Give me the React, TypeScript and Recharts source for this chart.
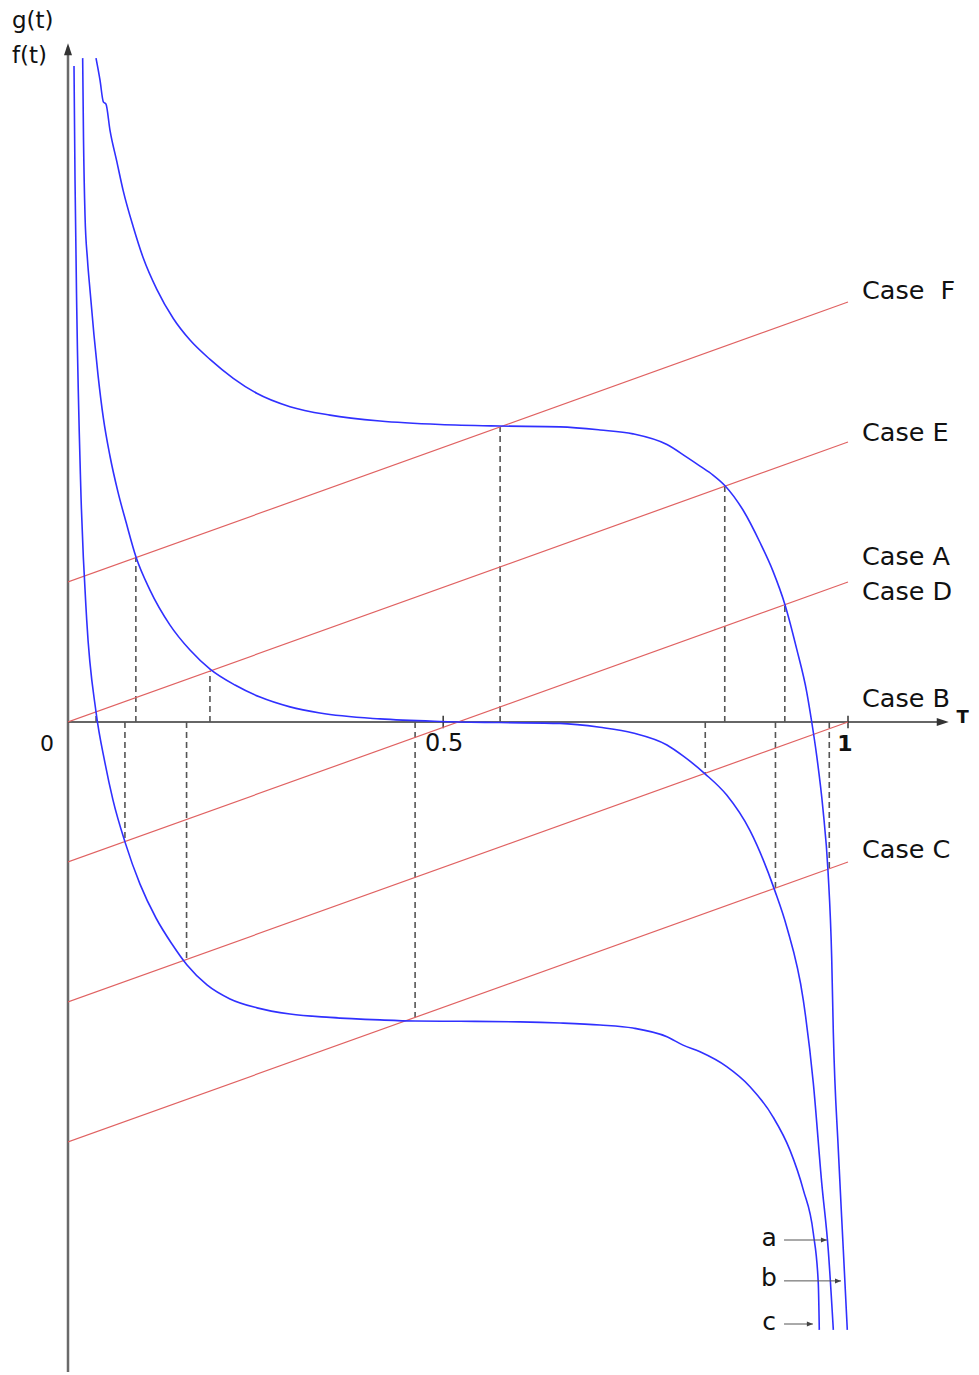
import React from "react";
import { ComposedChart, Line, XAxis, YAxis, ReferenceLine, ReferenceDot } from "recharts";

// samples, [t, value]
const curveA: [number, number][] = [
  [0.0188, 2.371], [0.0199, 2.079], [0.0218, 1.811], [0.025, 1.65], [0.0282, 1.543],
  [0.0333, 1.382], [0.0385, 1.239], [0.0453, 1.086], [0.0538, 0.95], [0.0641, 0.821],
  [0.0744, 0.714], [0.0872, 0.589], [0.1051, 0.471], [0.1308, 0.346], [0.1564, 0.257],
  [0.1821, 0.189], [0.2141, 0.132], [0.2462, 0.089], [0.2846, 0.054], [0.3231, 0.032],
  [0.4, 0.011], [0.4769, 0.002], [0.5538, -0.002], [0.6308, -0.005], [0.6821, -0.019],
  [0.7244, -0.039], [0.7679, -0.082], [0.7885, -0.121], [0.8167, -0.185], [0.8445, -0.261],
  [0.8744, -0.388], [0.9064, -0.604], [0.9214, -0.731], [0.9427, -0.993], [0.9555, -1.289],
  [0.9663, -1.646], [0.9747, -1.886], [0.9812, -2.171],
];

const curveB: [number, number][] = [
  [0.0359, 2.371], [0.041, 2.293], [0.0453, 2.215], [0.0487, 2.207], [0.0538, 2.114],
  [0.0624, 2.004], [0.0709, 1.896], [0.0837, 1.768], [0.0965, 1.657], [0.1137, 1.546],
  [0.135, 1.441], [0.1564, 1.364], [0.1821, 1.295], [0.2119, 1.2275], [0.2419, 1.174],
  [0.2846, 1.126], [0.3359, 1.096], [0.4, 1.075], [0.4769, 1.0625], [0.5538, 1.057],
  [0.6308, 1.054], [0.6821, 1.043], [0.7244, 1.029], [0.7679, 0.991], [0.7932, 0.946],
  [0.8103, 0.914], [0.8269, 0.882], [0.8423, 0.844], [0.8654, 0.757], [0.8872, 0.641],
  [0.9038, 0.539], [0.9192, 0.419], [0.9342, 0.261], [0.9471, 0.107], [0.9535, 0.0],
  [0.9599, -0.121], [0.9679, -0.311], [0.9744, -0.534], [0.9791, -0.843], [0.9812, -1.111],
  [0.9876, -1.529], [0.994, -1.886], [0.9991, -2.171],
];

const curveC: [number, number][] = [
  [0.0077, 2.343], [0.009, 1.936], [0.0112, 1.479], [0.0163, 0.843], [0.024, 0.364],
  [0.0359, 0.036], [0.0474, -0.146], [0.0577, -0.279], [0.0731, -0.429], [0.0923, -0.579],
  [0.1128, -0.7], [0.1333, -0.793], [0.1526, -0.868], [0.1782, -0.939], [0.2077, -0.989],
  [0.2423, -1.021], [0.2846, -1.043], [0.3359, -1.055], [0.4, -1.064], [0.4449, -1.068],
  [0.5026, -1.069], [0.5795, -1.071], [0.6308, -1.075], [0.6821, -1.082], [0.7244, -1.093],
  [0.7679, -1.124], [0.7885, -1.154], [0.8103, -1.178], [0.8445, -1.231], [0.8744, -1.3025],
  [0.9038, -1.41], [0.9256, -1.529], [0.9427, -1.671], [0.9555, -1.825], [0.9619, -2.004],
  [0.9632, -2.171],
];

// straight lines y = t + offset, drawn from t=0 to t=1
const caseOffsets = [0.5, 0, -0.5, -1, -1.5];
const lineEnds = [0, 1];

const caseLabels = [
  { text: "Case\u00a0\u00a0F", line: 0 },
  { text: "Case E", line: 1 },
  { text: "Case A", line: 2 },
  { text: "Case D", line: 2 },
  { text: "Case B", line: 3 },
  { text: "Case C", line: 4 },
];
const caseLabelShift = [-12, -10, -26, 9, -24, -13];

// intersection abscissas and the line they sit on
const drops = [
  { t: 0.036, line: 1 }, { t: 0.087, line: 0 }, { t: 0.182, line: 1 },
  { t: 0.554, line: 0 }, { t: 0.842, line: 1 }, { t: 0.919, line: 2 },
  { t: 0.073, line: 2 }, { t: 0.152, line: 3 }, { t: 0.445, line: 4 },
  { t: 0.817, line: 3 }, { t: 0.907, line: 4 }, { t: 0.976, line: 4 },
];

// the original puts its "0.5" tick a little left of t=0.5
const xTicks = [0.481, 1];
const xTickLabels = ["0.5", "1"];

const curveNames = ["a", "b", "c"];
const pointerY = [-1.85, -1.996, -2.15];
const pointerTo = [0.973, 0.991, 0.955];
const pointerFrom = 0.918;

const Y_MIN = -653 / 280;
const Y_MAX = 682 / 280;
const X_MAX = 1.14;
const AXIS_TOP = 2.41;
const AXIS_BOTTOM = -2.321;
const AXIS_RIGHT = 1.124;

const toRows = (pts: [number, number][]) => pts.map(([t, y]) => ({ t, y }));

const BLUE = "#3030ff";
const RED = "#e06262";
const FONT = "'DejaVu Sans', Verdana, sans-serif";

const upArrow = (p: any) => (
  <path d={`M${p.cx},${p.cy - 4} L${p.cx - 4},${p.cy + 8} L${p.cx + 4},${p.cy + 8} Z`} fill="#333" />
);
const rightArrow = (p: any) => (
  <path d={`M${p.cx + 4},${p.cy} L${p.cx - 8},${p.cy - 4} L${p.cx - 8},${p.cy + 4} Z`} fill="#333" />
);
const smallArrow = (p: any) => (
  <path d={`M${p.cx},${p.cy} L${p.cx - 6},${p.cy - 2.5} L${p.cx - 6},${p.cy + 2.5} Z`} fill="#444" />
);
const textAt = (text: string, dx: number, dy: number, size: number, weight = 400, anchor = "start") =>
  (p: any) => (
    <text x={p.cx + dx} y={p.cy + dy} fontSize={size} fontWeight={weight} textAnchor={anchor}
      dominantBaseline="central" fill="#111" fontFamily={FONT}>
      {text}
    </text>
  );

export default function App() {
  return (
    <div style={{ position: "absolute", left: 0, top: 0, width: 979, height: 1375, background: "#fff" }}>
      <ComposedChart width={979} height={1375} margin={{ top: 40, right: 979 - 68 - X_MAX * 780, bottom: 0, left: 68 }}>
        <XAxis type="number" dataKey="t" domain={[0, X_MAX]} allowDataOverflow hide />
        <YAxis type="number" dataKey="y" domain={[Y_MIN, Y_MAX]} allowDataOverflow hide />

        {/* axes */}
        <ReferenceLine segment={[{ x: 0, y: AXIS_BOTTOM }, { x: 0, y: AXIS_TOP }]} stroke="#6a6a6a" strokeWidth={2.5} />
        <ReferenceLine segment={[{ x: 0, y: 0 }, { x: AXIS_RIGHT, y: 0 }]} stroke="#333" strokeWidth={1.5} />
        <ReferenceDot x={0} y={AXIS_TOP} r={0} shape={upArrow} />
        <ReferenceDot x={AXIS_RIGHT} y={0} r={0} shape={rightArrow} />
        {xTicks.map((v, i) => (
          <ReferenceLine key={"tk" + i} segment={[{ x: v, y: 0.022 }, { x: v, y: -0.022 }]} stroke="#333" strokeWidth={1.5} />
        ))}
        {xTicks.map((v, i) => (
          <ReferenceDot key={"tl" + i} x={v} y={0} r={0}
            shape={textAt(xTickLabels[i], i === 1 ? -3 : 1, 21, i === 1 ? 22 : 24, i === 1 ? 700 : 400, "middle")} />
        ))}
        <ReferenceDot x={0} y={0} r={0} shape={textAt("0", -21, 21, 22, 400, "middle")} />
        <ReferenceDot x={AXIS_RIGHT} y={0} r={0} shape={textAt("T", 18, -6, 18, 700, "middle")} />
        <ReferenceDot x={0} y={AXIS_TOP} r={0} shape={textAt("g(t)", -56, -27, 23)} />
        <ReferenceDot x={0} y={AXIS_TOP} r={0} shape={textAt("f(t)", -56, 8, 23)} />

        {/* drop lines */}
        {drops.map((d, i) => (
          <ReferenceLine key={"d" + i} segment={[{ x: d.t, y: 0 }, { x: d.t, y: d.t + caseOffsets[d.line] }]}
            stroke="#555" strokeWidth={1.6} strokeDasharray="6 4" />
        ))}

        {/* case lines */}
        {caseOffsets.map((c, i) => (
          <Line key={"c" + i} data={lineEnds.map((t) => ({ t, y: t + c }))} dataKey="y" type="linear"
            stroke={RED} strokeWidth={1.2} dot={false} isAnimationActive={false} />
        ))}
        {caseLabels.map((l, i) => (
          <ReferenceDot key={"cl" + i} x={1} y={1 + caseOffsets[l.line]} r={0} ifOverflow="visible"
            shape={textAt(l.text, 14, caseLabelShift[i], 25.5)} />
        ))}

        {/* curves */}
        {[curveA, curveB, curveC].map((pts, i) => (
          <Line key={"g" + i} data={toRows(pts)} dataKey="y" type="monotone" stroke={BLUE}
            strokeWidth={1.6} dot={false} isAnimationActive={false} />
        ))}

        {/* curve pointers */}
        {curveNames.map((n, i) => (
          <ReferenceLine key={"p" + i} segment={[{ x: pointerFrom, y: pointerY[i] }, { x: pointerTo[i], y: pointerY[i] }]}
            stroke="#555" strokeWidth={1} />
        ))}
        {curveNames.map((n, i) => (
          <ReferenceDot key={"pa" + i} x={pointerTo[i]} y={pointerY[i]} r={0} shape={smallArrow} />
        ))}
        {curveNames.map((n, i) => (
          <ReferenceDot key={"pl" + i} x={pointerFrom} y={pointerY[i]} r={0} shape={textAt(n, -15, -3, 25, 400, "middle")} />
        ))}
      </ComposedChart>
    </div>
  );
}
